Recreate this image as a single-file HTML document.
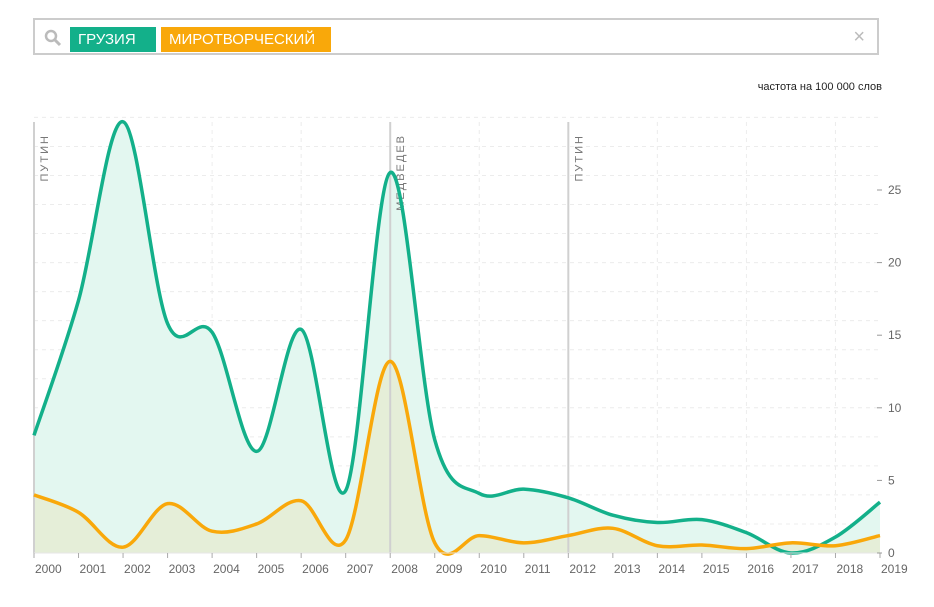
<!DOCTYPE html>
<html><head><meta charset="utf-8"><style>
body{margin:0;background:#fff;font-family:"Liberation Sans",sans-serif;}
#wrap{position:relative;width:934px;height:607px;overflow:hidden}
.search{position:absolute;left:33px;top:18px;width:846px;height:37px;border:2px solid #ccc;box-sizing:border-box;background:#fff}
.tag{position:absolute;top:7px;height:25px;line-height:25px;color:#fff;font-size:15px;padding:0 8px;box-sizing:border-box}
</style></head><body>
<div id="wrap">
<div class="search">
  <svg style="position:absolute;left:9px;top:9px" width="18" height="18"><circle cx="7" cy="7" r="5" fill="none" stroke="#bbb" stroke-width="2.5"/><line x1="11" y1="11" x2="16" y2="16" stroke="#bbb" stroke-width="3"/></svg>
  <div class="tag" style="left:35px;width:86px;background:#13b08a">ГРУЗИЯ <span style="margin-left:8px;font-size:13px">×</span></div>
  <div class="tag" style="left:126px;width:170px;background:#f9a80a">МИРОТВОРЧЕСКИЙ <span style="margin-left:8px;font-size:13px">×</span></div>
  <div style="position:absolute;right:12px;top:6px;color:#bbb;font-size:20px">×</div>
</div>
<div style="position:absolute;right:52px;top:81px;font-size:11px;color:#222">частота на 100 000 слов</div>
<svg id="chart" width="934" height="607" style="position:absolute;left:0;top:0"></svg>
</div>
<script>
const years=[2000,2001,2002,2003,2004,2005,2006,2007,2008,2009,2010,2011,2012,2013,2014,2015,2016,2017,2018,2019];
const georgia=[8.1,17.4,29.7,15.8,15.2,7.0,15.4,4.3,26.2,7.8,4.1,4.4,3.8,2.6,2.1,2.3,1.4,0,1.1,3.5];
const peace=[4.0,2.8,0.4,3.4,1.5,2.0,3.6,0.9,13.2,0.7,1.2,0.7,1.2,1.7,0.5,0.55,0.3,0.7,0.5,1.2];
const yTicks=[0,5,10,15,20,25];
const eras=[{year:2000,label:"ПУТИН"},{year:2008,label:"МЕДВЕДЕВ"},{year:2012,label:"ПУТИН"}];
const NS="http://www.w3.org/2000/svg";
const svg=document.getElementById('chart');
const x0=34,x1=880,y0=553,pxu=14.52;
const X=y=>x0+(y-2000)*(x1-x0)/19;
const Y=v=>y0-v*pxu;
function el(t,a,p){const e=document.createElementNS(NS,t);for(const k in a)e.setAttribute(k,a[k]);(p||svg).appendChild(e);return e;}
// grid
const g=el('g',{});


for(let v=2;v<=30;v+=2){el('line',{x1:x0,x2:x1,y1:Y(v),y2:Y(v),stroke:'#ececec','stroke-dasharray':'4,4'},g);}
for(let yr=2002;yr<=2018;yr+=2){el('line',{x1:X(yr),x2:X(yr),y1:122,y2:y0,stroke:'#ececec','stroke-dasharray':'4,4'},g);}
function path(vals){
  const p=vals.map((v,i)=>[X(years[i]),Y(v)]);
  let d=`M${p[0][0]},${p[0][1]}`;
  for(let i=0;i<p.length-1;i++){
    const a=p[Math.max(0,i-1)],b=p[i],c=p[i+1],e=p[Math.min(p.length-1,i+2)];
    const c1=[b[0]+(c[0]-a[0])/6,b[1]+(c[1]-a[1])/6],c2=[c[0]-(e[0]-b[0])/6,c[1]-(e[1]-b[1])/6];
    d+=` C${c1[0]},${c1[1]} ${c2[0]},${c2[1]} ${c[0]},${c[1]}`;
  }
  return d;
}
const dg=path(georgia),dp=path(peace);
const ag=el('path',{d:dg+` L${x1},${y0} L${x0},${y0} Z`,fill:'#e3f7f0'});


const ap=el('path',{d:dp+` L${x1},${y0} L${x0},${y0} Z`,fill:'#e5eed8'});


// eras
eras.forEach(er=>{
  const l=el('line',{x1:X(er.year),x2:X(er.year),y1:122,y2:y0,stroke:'#d0d0d0','stroke-width':2});
  
  
  const tx=X(er.year)+14,ty=134;
  const t=el('text',{x:tx,y:ty,transform:`rotate(-90 ${tx} ${ty})`,'text-anchor':'end','font-size':11,fill:'#777','letter-spacing':'2'});
  t.textContent=er.label;
  
  
});
const lg=el('path',{d:dg,fill:'none',stroke:'#13b08a','stroke-width':3.5});


const lp=el('path',{d:dp,fill:'none',stroke:'#f9a80a','stroke-width':3.5});


// x axis
const ax=el('line',{x1:x0,x2:x1,y1:y0,y2:y0,stroke:'#e6e6e6','stroke-width':1});


years.forEach(yr=>{
  el('line',{x1:X(yr),x2:X(yr),y1:y0,y2:y0+5,stroke:'#aaa'});
  const t=el('text',{x:X(yr)+1,y:y0+20,'font-size':12,fill:'#666'});
  t.textContent=yr;
  
  
});
yTicks.forEach(v=>{
  el('line',{x1:x1-3,x2:x1+2,y1:Y(v),y2:Y(v),stroke:'#999'});
  const t=el('text',{x:x1+8,y:Y(v)+4,'font-size':12,fill:'#666'});
  t.textContent=v;
  
  
});
</script>
</body></html>
